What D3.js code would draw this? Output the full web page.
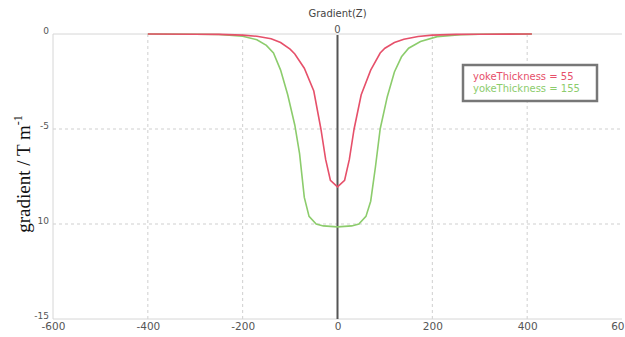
<!DOCTYPE html>
<html>
<head>
<meta charset="utf-8">
<script src="https://cdn.jsdelivr.net/npm/d3@7"></script>
<style>
  body { margin: 0; background: #fff; }
  svg { display: block; }
  .tick text { fill: #555; font-family: "DejaVu Sans", Verdana, sans-serif; }
</style>
</head>
<body>
<svg id="chart" width="625" height="337"></svg>
<script>
// data
var xTicks = [-600, -400, -200, 0, 200, 400, 600];
var xTickLabels = ["-600", "-400", "-200", "0", "200", "400", "60"];
var yTicks = [0, -5, -10, -15];
var yTickLabels = ["0", "-5", "10", "-15"];
var seriesNames = ["yokeThickness = 55", "yokeThickness = 155"];
var seriesColors = ["#e6506a", "#8ccc6c"];

var zRed = [-400, -300, -250, -200, -170, -140, -120, -100, -90, -70, -50, -35, -25, -15, 0,
            15, 25, 35, 50, 70, 90, 100, 120, 140, 170, 200, 250, 300, 410];
var gRed = [0, -0.01, -0.02, -0.06, -0.12, -0.25, -0.45, -0.8, -1.05, -1.8, -3.0, -5.0, -6.6, -7.7, -8.05,
            -7.7, -6.6, -5.0, -3.2, -1.9, -1.0, -0.75, -0.45, -0.28, -0.13, -0.06, -0.02, -0.01, 0];
var zGreen = [-400, -300, -250, -200, -170, -150, -135, -120, -105, -90, -80, -70, -60, -45, -30, 0,
              30, 45, 60, 70, 80, 90, 105, 120, 135, 150, 175, 210, 260, 300, 410];
var gGreen = [0, -0.01, -0.03, -0.12, -0.3, -0.6, -1.0, -1.9, -3.2, -4.8, -6.3, -8.6, -9.6, -10.0, -10.1, -10.15,
              -10.1, -10.0, -9.6, -8.8, -7.0, -5.0, -3.3, -2.0, -1.2, -0.75, -0.4, -0.14, -0.04, -0.01, 0];

var svg = d3.select("#chart");
var x = d3.scaleLinear().domain([-600, 600]).range([53, 622]);
var y = d3.scaleLinear().domain([0, -15]).range([34, 319]);

// grid
var grid = svg.append("g");
grid.selectAll(".vg").data([-400, -200, 200, 400]).enter().append("line")
  .attr("x1", function(d) { return x(d); }).attr("x2", function(d) { return x(d); })
  .attr("y1", y(0)).attr("y2", y(-15))
  .attr("stroke", "#cfcfcf").attr("stroke-dasharray", "3,3");
grid.selectAll(".hg").data([-5, -10]).enter().append("line")
  .attr("x1", x(-600)).attr("x2", x(600))
  .attr("y1", function(d) { return y(d); }).attr("y2", function(d) { return y(d); })
  .attr("stroke", "#cfcfcf").attr("stroke-dasharray", "3,3");
// frame
grid.append("line").attr("x1", x(-600)).attr("x2", x(600)).attr("y1", y(0)).attr("y2", y(0)).attr("stroke", "#d6d6d6");
grid.append("line").attr("x1", x(-600)).attr("x2", x(600)).attr("y1", y(-15)).attr("y2", y(-15)).attr("stroke", "#d6d6d6");
grid.append("line").attr("x1", x(-600)).attr("x2", x(-600)).attr("y1", y(0)).attr("y2", y(-15)).attr("stroke", "#d6d6d6");

// axes (labels only)
var xAxis = svg.append("g")
  .attr("transform", "translate(0," + y(-15) + ")")
  .call(d3.axisBottom(x).tickValues(xTicks).tickSize(0).tickPadding(4)
    .tickFormat(function(d, i) { return xTickLabels[i]; }));
xAxis.select(".domain").remove();
xAxis.selectAll("text").attr("font-size", 10.5);
// last label is clipped by the window edge in the original
xAxis.selectAll("text").filter(function(d) { return d === 600; })
  .attr("text-anchor", "end").attr("x", 2);

var yAxis = svg.append("g")
  .attr("transform", "translate(" + x(-600) + ",0)")
  .call(d3.axisLeft(y).tickValues(yTicks).tickSize(0).tickPadding(4)
    .tickFormat(function(d, i) { return yTickLabels[i]; }));
yAxis.select(".domain").remove();
yAxis.selectAll("text").attr("font-size", 9).attr("dy", "-0.1em");

// zero line
svg.append("line")
  .attr("x1", x(0)).attr("x2", x(0)).attr("y1", y(0) + 1).attr("y2", y(-15))
  .attr("stroke", "#555").attr("stroke-width", 2);
svg.append("text").attr("x", x(0)).attr("y", y(0) - 1)
  .attr("text-anchor", "middle").attr("font-family", "DejaVu Sans, sans-serif")
  .attr("font-size", 10).attr("fill", "#555").text("0");

// title
svg.append("text").attr("x", x(0)).attr("y", 17)
  .attr("text-anchor", "middle").attr("font-family", "DejaVu Sans, sans-serif")
  .attr("font-size", 10).attr("fill", "#444").text("Gradient(Z)");

// y label
var yl = svg.append("text")
  .attr("transform", "translate(30,174) rotate(-90)")
  .attr("text-anchor", "middle").attr("font-family", "Liberation Serif, serif")
  .attr("font-size", 19).attr("fill", "#111");
yl.append("tspan").text("gradient / T m");
yl.append("tspan").attr("font-size", 12).attr("dy", "-0.7em").text("-1");

// curves
var line = d3.line()
  .x(function(d) { return x(d[0]); })
  .y(function(d) { return y(d[1]); });
var redPts = d3.zip(zRed, gRed);
var greenPts = d3.zip(zGreen, gGreen);
svg.append("path").datum(greenPts).attr("d", line)
  .attr("fill", "none").attr("stroke", seriesColors[1]).attr("stroke-width", 1.6);
svg.append("path").datum(redPts).attr("d", line)
  .attr("fill", "none").attr("stroke", seriesColors[0]).attr("stroke-width", 1.6);

// legend
var lg = svg.append("g").attr("transform", "translate(463,65)");
lg.append("rect").attr("width", 134).attr("height", 36)
  .attr("fill", "#fff").attr("stroke", "#777").attr("stroke-width", 2.5);
lg.selectAll("text").data(seriesNames).enter().append("text")
  .attr("x", 10).attr("y", function(d, i) { return 15 + i * 12; })
  .attr("font-family", "DejaVu Sans, sans-serif").attr("font-size", 10)
  .attr("fill", function(d, i) { return seriesColors[i]; })
  .text(function(d) { return d; });
</script>
</body>
</html>
